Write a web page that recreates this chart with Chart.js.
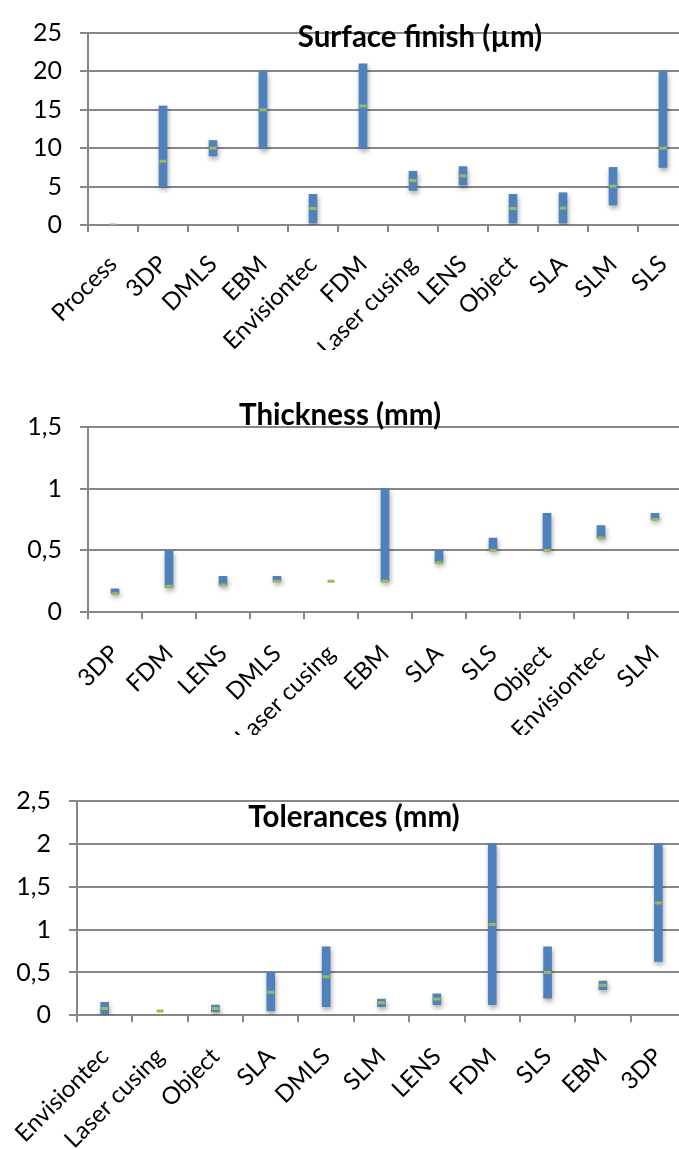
<!DOCTYPE html>
<html>
<head>
<meta charset="utf-8">
<script src="https://cdn.jsdelivr.net/npm/chart.js@4.4.1/dist/chart.umd.min.js"></script>
<style>
  html, body { margin: 0; padding: 0; background: #fff; overflow: hidden; }
  #page { position: relative; width: 679px; height: 1149px; overflow: hidden; background: #fff; }
  canvas { position: absolute; left: 0; }
</style>
</head>
<body>
<div id="page">
  <canvas id="finish" width="700" height="350" style="top:0px;width:700px;height:350px"></canvas>
  <canvas id="thick" width="700" height="385" style="top:350px;width:700px;height:385px"></canvas>
  <canvas id="tol" width="700" height="414" style="top:735px;width:700px;height:414px"></canvas>
</div>
<script>
// Surface finish (µm): min / max range per process and the mean value
const finishCats = ['Process', '3DP', 'DMLS', 'EBM', 'Envisiontec', 'FDM', 'Laser cusing', 'LENS', 'Object', 'SLA', 'SLM', 'SLS'];
const finishLow  = [null, 5, 9, 10, 0.25, 10, 4.5, 5.2, 0.25, 0.25, 2.6, 7.5];
const finishHigh = [null, 15.5, 11, 20, 4, 21, 7, 7.6, 4, 4.2, 7.5, 20];
const finishMean = [0, 8.3, 10, 15, 2.15, 15.5, 5.8, 6.4, 2.15, 2.2, 5.05, 10];
const finishTicks = ['0', '5', '10', '15', '20', '25'];

// Layer thickness (mm)
const thickCats = ['3DP', 'FDM', 'LENS', 'DMLS', 'Laser cusing', 'EBM', 'SLA', 'SLS', 'Object', 'Envisiontec', 'SLM'];
const thickLow  = [0.15, 0.2, 0.22, 0.25, null, 0.25, 0.4, 0.5, 0.5, 0.6, 0.75];
const thickHigh = [0.19, 0.5, 0.29, 0.29, null, 1, 0.5, 0.6, 0.8, 0.7, 0.8];
const thickMean = [0.15, 0.21, 0.22, 0.25, 0.25, 0.25, 0.4, 0.5, 0.5, 0.6, 0.75];
const thickTicks = ['0', '0,5', '1', '1,5'];

// Tolerances (mm)
const tolCats = ['Envisiontec', 'Laser cusing', 'Object', 'SLA', 'DMLS', 'SLM', 'LENS', 'FDM', 'SLS', 'EBM', '3DP'];
const tolLow  = [0.02, null, 0.04, 0.05, 0.1, 0.1, 0.125, 0.125, 0.2, 0.3, 0.63];
const tolHigh = [0.15, null, 0.12, 0.5, 0.8, 0.19, 0.25, 2, 0.8, 0.4, 2];
const tolMean = [0.08, 0.05, 0.08, 0.27, 0.45, 0.145, 0.19, 1.06, 0.5, 0.35, 1.31];
const tolTicks = ['0', '0,5', '1', '1,5', '2', '2,5'];

const BAR = '#4F81BD';
const MEAN = '#9BBB59';
const GRID = '#878787';
const FONT = 'Lato, "Open Sans", sans-serif';

// Title drawn inside the plot area, like an overlaid chart title
const panelTitle = {
  id: 'panelTitle',
  afterDatasetsDraw(chart, args, opts) {
    const ctx = chart.ctx;
    ctx.save();
    ctx.font = opts.font;
    ctx.fillStyle = '#000';
    ctx.textAlign = 'center';
    ctx.textBaseline = 'alphabetic';
    ctx.fillText(opts.text, opts.x, opts.y);
    ctx.restore();
  }
};

// Soft drop shadow under the range bars
const barShadow = {
  id: 'barShadow',
  beforeDatasetDraw(chart, args) {
    if (args.index !== 0) return;
    const ctx = chart.ctx;
    ctx.save();
    ctx.shadowColor = 'rgba(0,0,0,0.35)';
    ctx.shadowBlur = 5;
    ctx.shadowOffsetX = 1;
    ctx.shadowOffsetY = 3;
  },
  afterDatasetDraw(chart, args) {
    if (args.index !== 0) return;
    chart.ctx.restore();
  }
};

function makeChart(id, cats, low, high, mean, ticks, cfg) {
  const ranges = low.map((lo, i) => (lo === null || high[i] === null) ? null : [lo, high[i]]);
  return new Chart(document.getElementById(id), {
    type: 'bar',
    data: {
      labels: cats,
      datasets: [
        {
          label: 'Range',
          data: ranges,
          backgroundColor: BAR,
          borderWidth: 0,
          barThickness: 8,
          order: 2
        },
        {
          type: 'line',
          label: 'Mean',
          data: mean,
          showLine: false,
          pointStyle: 'line',
          pointRadius: 3.5,
          pointBorderWidth: 3,
          pointBorderColor: MEAN,
          pointBackgroundColor: MEAN,
          order: 1
        }
      ]
    },
    options: {
      responsive: false,
      animation: false,
      events: [],
      layout: { padding: { left: 0, top: cfg.top, right: cfg.right, bottom: 0 } },
      plugins: {
        legend: { display: false },
        tooltip: { enabled: false },
        panelTitle: cfg.title
      },
      scales: {
        x: {
          grid: { drawOnChartArea: false, drawTicks: true, tickLength: 7, color: GRID, lineWidth: 2, offset: true },
          border: { display: true, color: GRID, width: 2 },
          ticks: {
            autoSkip: false, minRotation: 45, maxRotation: 45,
            padding: cfg.xPad, labelOffset: 0,
            color: '#000', font: { family: FONT, size: 24 }
          },
          afterFit(scale) {
            scale.height = cfg.xHeight;
            scale.paddingLeft = 0;
            scale.paddingRight = 0;
          }
        },
        y: {
          min: 0, max: cfg.max,
          grid: { color: GRID, lineWidth: 2, tickLength: 8 },
          border: { display: true, color: GRID, width: 2 },
          ticks: {
            stepSize: cfg.step, padding: cfg.yPad, color: '#000',
            font: { family: FONT, size: 25 },
            callback: (v, i) => ticks[i]
          },
          afterFit(scale) { scale.width = cfg.yWidth; }
        }
      }
    },
    plugins: [panelTitle, barShadow]
  });
}

makeChart('finish', finishCats, finishLow, finishHigh, finishMean, finishTicks, {
  top: 19, right: 12, xHeight: 125, yWidth: 88, max: 25, step: 5, xPad: 18, yPad: 18,
  title: { text: 'Surface finish (µm)', x: 420, y: 47, font: 'bold 29.5px ' + FONT }
});

makeChart('thick', thickCats, thickLow, thickHigh, thickMean, thickTicks, {
  top: 76.7, right: 18, xHeight: 122.7, yWidth: 88, max: 1.5, step: 0.5, xPad: 20, yPad: 18,
  title: { text: 'Thickness (mm)', x: 340, y: 75, font: 'bold 29.5px ' + FONT }
});

makeChart('tol', tolCats, tolLow, tolHigh, tolMean, tolTicks, {
  top: 66, right: 14, xHeight: 133.7, yWidth: 77, max: 2.5, step: 0.5, xPad: 20, yPad: 18,
  title: { text: 'Tolerances (mm)', x: 354, y: 92, font: 'bold 29.5px ' + FONT }
});
</script>
</body>
</html>
